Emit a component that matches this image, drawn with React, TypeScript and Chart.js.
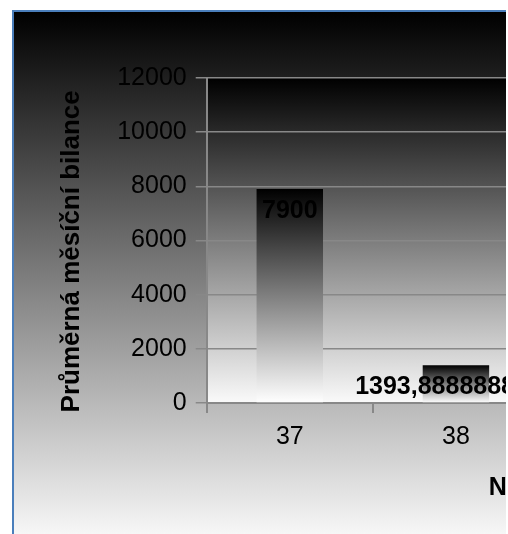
import React, { useEffect, useRef } from 'react';
import { Chart, registerables } from 'chart.js';

Chart.register(...registerables);

const categories = ['37', '38'];
const values = [7900, 1393.8888888889];
const yMin = 0;
const yMax = 12000;
const yStep = 2000;
const yTitle = 'Průměrná měsíční bilance   ';
const xTitle = 'N';

const FONT = "'Liberation Sans', Arial, sans-serif";

const bgPlugin = {
  id: 'bgPlugin',
  beforeDraw(chart: any) {
    const { ctx, width, height, chartArea } = chart;
    ctx.save();
    let g = ctx.createLinearGradient(0, 0, 0, height);
    g.addColorStop(0, '#000000');
    g.addColorStop(1, '#ffffff');
    ctx.fillStyle = g;
    ctx.fillRect(0, 0, width, height);
    g = ctx.createLinearGradient(0, chartArea.top, 0, chartArea.bottom);
    g.addColorStop(0, '#000000');
    g.addColorStop(1, '#fafafa');
    ctx.fillStyle = g;
    ctx.fillRect(chartArea.left, chartArea.top, chartArea.right - chartArea.left, chartArea.bottom - chartArea.top);
    ctx.restore();
  },
};

const labelPlugin = {
  id: 'labelPlugin',
  afterDatasetsDraw(chart: any) {
    const { ctx } = chart;
    const meta = chart.getDatasetMeta(0);
    ctx.save();
    ctx.font = `bold 25px ${FONT}`;
    ctx.fillStyle = '#000';
    ctx.textAlign = 'center';
    ctx.textBaseline = 'middle';
    meta.data.forEach((bar: any, i: number) => {
      const v = values[i];
      ctx.fillText(String(v).replace('.', ','), bar.x, bar.y + 22);
    });
    ctx.restore();
  },
  afterDraw(chart: any) {
    const { ctx, chartArea } = chart;
    ctx.save();
    ctx.font = `bold 25px ${FONT}`;
    ctx.fillStyle = '#000';
    ctx.textAlign = 'left';
    ctx.textBaseline = 'middle';
    ctx.fillText(xTitle, chartArea.left + 282, chartArea.bottom + 85);
    ctx.restore();
  },
};

export default function App() {
  const ref = useRef<HTMLCanvasElement>(null);

  useEffect(() => {
    if (!ref.current) return;
    const chart = new Chart(ref.current, {
      type: 'bar',
      data: {
        labels: categories,
        datasets: [
          {
            data: values,
            backgroundColor: (c: any) => {
              const ch = c.chart;
              const y = ch.scales && ch.scales.y;
              if (!y || c.type !== 'data' || !isFinite(y.getPixelForValue(0))) return '#444';
              const top = y.getPixelForValue(c.raw);
              const base = y.getPixelForValue(0);
              const g = ch.ctx.createLinearGradient(0, top, 0, base);
              g.addColorStop(0, '#000000');
              g.addColorStop(1, '#ffffff');
              return g;
            },
            borderWidth: 0,
            barPercentage: 0.4,
            categoryPercentage: 1,
          },
        ],
      },
      options: {
        responsive: false,
        animation: false,
        devicePixelRatio: 1,
        layout: { padding: { left: 0, top: 66, right: 35, bottom: 91 } },
        plugins: {
          legend: { display: false },
          tooltip: { enabled: false },
          title: { display: false },
        },
        scales: {
          x: {
            grid: {
              display: true,
              drawOnChartArea: false,
              drawTicks: true,
              tickLength: 10,
              color: '#888888',
              lineWidth: 2,
              offset: true,
            },
            border: { display: true, color: '#888888', width: 2 },
            ticks: {
              color: '#000',
              padding: 9,
              font: { family: FONT, size: 25 },
              maxRotation: 0,
            },
          },
          y: {
            min: yMin,
            max: yMax,
            grid: {
              color: '#888888',
              lineWidth: 1.5,
              tickLength: 11,
              drawTicks: true,
            },
            border: { display: true, color: '#888888', width: 2 },
            ticks: {
              stepSize: yStep,
              color: '#000',
              padding: 9,
              font: { family: FONT, size: 25 },
              callback: (v: any) => String(v),
            },
            title: {
              display: true,
              text: yTitle,
              color: '#000',
              font: { family: FONT, size: 26, weight: 'bold' },
              padding: { top: 42, bottom: 21 },
            },
          },
        },
      },
      plugins: [bgPlugin, labelPlugin],
    });
    return () => chart.destroy();
  }, []);

  return (
    <div
      style={{
        position: 'fixed',
        left: 0,
        top: 0,
        width: 508,
        height: 534,
        overflow: 'hidden',
        background: '#fff',
      }}
    >
      <div
        style={{
          position: 'absolute',
          left: 12,
          top: 10,
          width: 494,
          height: 524,
          overflow: 'hidden',
          borderLeft: '2px solid #4a7ebb',
          borderTop: '2px solid #4a7ebb',
          boxSizing: 'border-box',
        }}
      >
        <canvas ref={ref} width={560} height={540} style={{ display: 'block' }} />
      </div>
    </div>
  );
}
